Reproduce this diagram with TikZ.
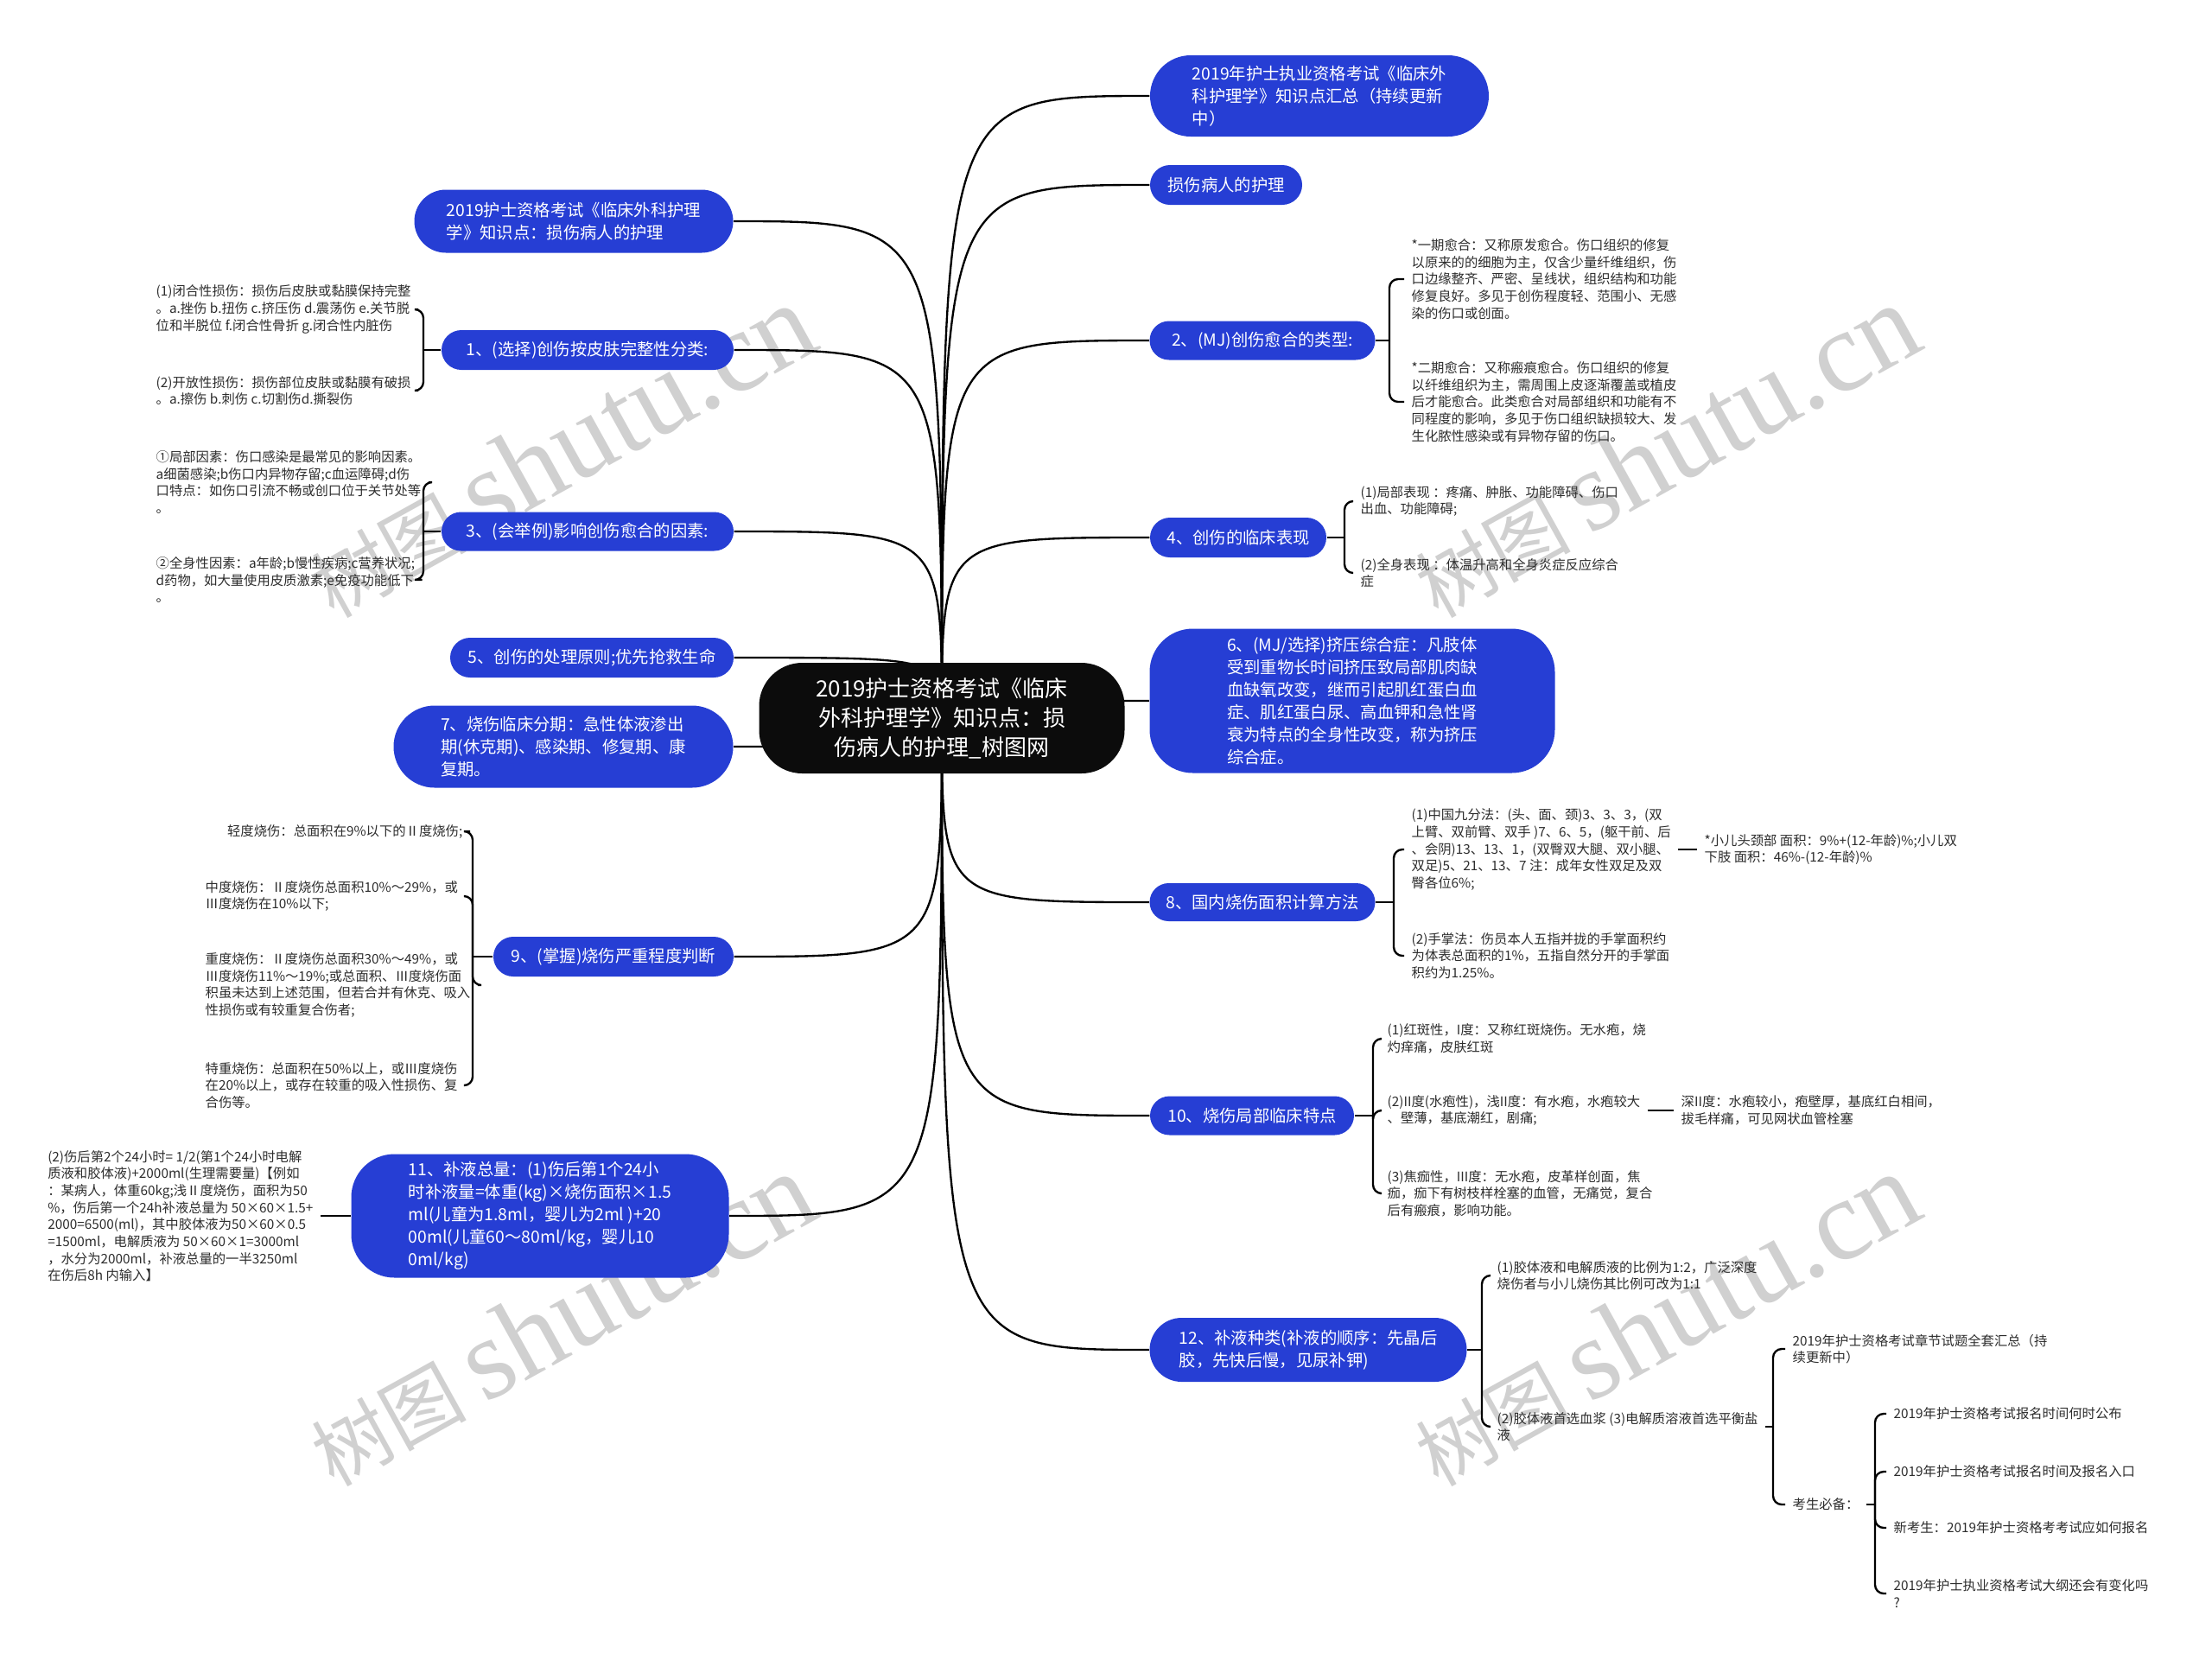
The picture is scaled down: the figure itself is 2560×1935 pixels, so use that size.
\documentclass[tikz,border=0pt]{standalone}
\usepackage{fontspec}
\setmainfont{Noto Sans CJK SC}
\newfontfamily\wmlatin{Liberation Serif}
\usetikzlibrary{shapes.misc}
\pgfdeclarelayer{bg}
\pgfsetlayers{bg,main}
\definecolor{nodeblue}{RGB}{38,62,212}
\definecolor{nodeblack}{RGB}{12,12,12}
\definecolor{txtgray}{RGB}{45,45,45}
\definecolor{wmgray}{RGB}{208,208,208}
\begin{document}
\begin{tikzpicture}[x=0.3pt,y=-0.3pt,
  conn/.style={line width=0.7pt, black},
  brk/.style={conn, rounded corners=3pt},
  rootnode/.style={rectangle, rounded corners=15pt, fill=nodeblack, text=white,
    font=\fontsize{7.8pt}{10.2pt}\selectfont, align=center,
    minimum width=126.9pt, minimum height=38.4pt, inner sep=0pt},
  topic/.style={rounded rectangle, fill=nodeblue, text=white,
    font=\fontsize{5.8pt}{7.8pt}\selectfont, align=left, inner sep=0pt},
  bigtopic/.style={rectangle, rounded corners=15pt, fill=nodeblue, text=white,
    font=\fontsize{5.8pt}{7.8pt}\selectfont, align=left, inner sep=0pt},
  leaf/.style={text=txtgray, font=\fontsize{4.6pt}{5.9pt}\selectfont, align=left,
    inner xsep=2.4pt, inner ysep=0pt},
  wm/.style={text=wmgray, rotate=29}
]
\useasboundingbox (0,0) rectangle (2560,1935);

% root
\node[rootnode] (root) at (1090,831) {2019护士资格考试《临床\\外科护理学》知识点：损\\伤病人的护理\_树图网};

% right topics
\node[topic, minimum width=117.6pt, minimum height=28.2pt] (R0) at (1527,111) {2019年护士执业资格考试《临床外\\科护理学》知识点汇总（持续更新\\中）};
\node[topic, minimum width=52.8pt, minimum height=13.8pt] (R1) at (1419,214) {损伤病人的护理};
\node[topic, minimum width=78.3pt, minimum height=13.5pt] (R2) at (1461,394) {2、(MJ)创伤愈合的类型:};
\node[topic, minimum width=61.2pt, minimum height=13.8pt] (R4) at (1433,622) {4、创伤的临床表现};
\node[bigtopic, minimum width=140.7pt, minimum height=50.1pt] (R6) at (1565,811) {6、(MJ/选择)挤压综合症：凡肢体\\受到重物长时间挤压致局部肌肉缺\\血缺氧改变，继而引起肌红蛋白血\\症、肌红蛋白尿、高血钾和急性肾\\衰为特点的全身性改变，称为挤压\\综合症。};
\node[topic, minimum width=78.3pt, minimum height=13.2pt] (R8) at (1461,1044) {8、国内烧伤面积计算方法};
\node[topic, minimum width=70.8pt, minimum height=13.5pt] (R10) at (1449,1291) {10、烧伤局部临床特点};
\node[topic, minimum width=110.1pt, minimum height=22.2pt] (R12) at (1514,1562) {12、补液种类(补液的顺序：先晶后\\胶，先快后慢，见尿补钾)};

% left topics
\node[topic, minimum width=110.7pt, minimum height=21.9pt] (L0) at (664,256) {2019护士资格考试《临床外科护理\\学》知识点：损伤病人的护理};
\node[topic, minimum width=101.4pt, minimum height=13.8pt] (L1) at (680,405) {1、(选择)创伤按皮肤完整性分类:};
\node[topic, minimum width=101.4pt, minimum height=13.5pt] (L3) at (680,615) {3、(会举例)影响创伤愈合的因素:};
\node[topic, minimum width=98.4pt, minimum height=13.8pt] (L5) at (685,761) {5、创伤的处理原则;优先抢救生命};
\node[topic, minimum width=117.9pt, minimum height=28.5pt] (L7) at (652,864) {7、烧伤临床分期：急性体液渗出\\期(休克期)、感染期、修复期、康\\复期。};
\node[topic, minimum width=83.4pt, minimum height=13.8pt] (L9) at (710,1107) {9、(掌握)烧伤严重程度判断};
\node[bigtopic, minimum width=131.1pt, minimum height=42.9pt] (L11) at (625,1407) {11、补液总量：(1)伤后第1个24小\\时补液量=体重(kg)×烧伤面积×1.5\\ml(儿童为1.8ml，婴儿为2ml )+20\\00ml(儿童60～80ml/kg，婴儿10\\0ml/kg)};

% left leaves
\node[leaf, anchor=west] (l1a) at (172,358) {(1)闭合性损伤：损伤后皮肤或黏膜保持完整\\。a.挫伤 b.扭伤 c.挤压伤 d.震荡伤 e.关节脱\\位和半脱位 f.闭合性骨折 g.闭合性内脏伤};
\node[leaf, anchor=west] (l1b) at (172,452) {(2)开放性损伤：损伤部位皮肤或黏膜有破损\\。a.擦伤 b.刺伤 c.切割伤d.撕裂伤};
\node[leaf, anchor=west] (l3a) at (172,558) {①局部因素：伤口感染是最常见的影响因素。\\a细菌感染;b伤口内异物存留;c血运障碍;d伤\\口特点：如伤口引流不畅或创口位于关节处等\\。};
\node[leaf, anchor=west] (l3b) at (172,671) {②全身性因素：a年龄;b慢性疾病;c营养状况;\\d药物，如大量使用皮质激素;e免疫功能低下\\。};
\node[leaf, anchor=east] (l9a) at (544,962) {轻度烧伤：总面积在9\%以下的Ⅱ度烧伤;};
\node[leaf, anchor=west] (l9b) at (229,1037) {中度烧伤：Ⅱ度烧伤总面积10\%～29\%，或\\Ⅲ度烧伤在10\%以下;};
\node[leaf, anchor=west] (l9c) at (229,1140) {重度烧伤：Ⅱ度烧伤总面积30\%～49\%，或\\Ⅲ度烧伤11\%～19\%;或总面积、Ⅲ度烧伤面\\积虽未达到上述范围，但若合并有休克、吸入\\性损伤或有较重复合伤者;};
\node[leaf, anchor=west] (l9d) at (229,1256) {特重烧伤：总面积在50\%以上，或Ⅲ度烧伤\\在20\%以上，或存在较重的吸入性损伤、复\\合伤等。};
\node[leaf, anchor=east] (l11a) at (371,1407) {(2)伤后第2个24小时= 1/2(第1个24小时电解\\质液和胶体液)+2000ml(生理需要量)【例如\\：某病人，体重60kg;浅Ⅱ度烧伤，面积为50\\\%，伤后第一个24h补液总量为 50×60×1.5+\\2000=6500(ml)，其中胶体液为50×60×0.5\\=1500ml，电解质液为 50×60×1=3000ml\\，水分为2000ml，补液总量的一半3250ml\\在伤后8h 内输入】};

% right leaves
\node[leaf, anchor=west] (r2a) at (1625,323) {*一期愈合：又称原发愈合。伤口组织的修复\\以原来的的细胞为主，仅含少量纤维组织，伤\\口边缘整齐、严密、呈线状，组织结构和功能\\修复良好。多见于创伤程度轻、范围小、无感\\染的伤口或创面。};
\node[leaf, anchor=west] (r2b) at (1625,465) {*二期愈合：又称瘢痕愈合。伤口组织的修复\\以纤维组织为主，需周围上皮逐渐覆盖或植皮\\后才能愈合。此类愈合对局部组织和功能有不\\同程度的影响，多见于伤口组织缺损较大、发\\生化脓性感染或有异物存留的伤口。};
\node[leaf, anchor=west] (r4a) at (1566,580) {(1)局部表现 ：疼痛、肿胀、功能障碍、伤口\\出血、功能障碍;};
\node[leaf, anchor=west] (r4b) at (1566,663) {(2)全身表现 ：体温升高和全身炎症反应综合\\症};
\node[leaf, anchor=west] (r8a) at (1625,983) {(1)中国九分法：(头、面、颈)3、3、3，(双\\上臂、双前臂、双手 )7、6、5，(躯干前、后\\、会阴)13、13、1，(双臀双大腿、双小腿、\\双足)5、21、13、7 注：成年女性双足及双\\臀各位6\%;};
\node[leaf, anchor=west] (r8b) at (1625,1106) {(2)手掌法：伤员本人五指并拢的手掌面积约\\为体表总面积的1\%，五指自然分开的手掌面\\积约为1.25\%。};
\node[leaf, anchor=west] (r8c) at (1964,983) {*小儿头颈部 面积：9\%+(12-年龄)\%;小儿双\\下肢 面积：46\%-(12-年龄)\%};
\node[leaf, anchor=west] (r10a) at (1597,1202) {(1)红斑性，I度：又称红斑烧伤。无水疱，烧\\灼痒痛，皮肤红斑};
\node[leaf, anchor=west] (r10b) at (1597,1285) {(2)II度(水疱性)，浅II度：有水疱，水疱较大\\、壁薄，基底潮红，剧痛;};
\node[leaf, anchor=west] (r10c) at (1597,1381) {(3)焦痂性，III度：无水疱，皮革样创面，焦\\痂，痂下有树枝样栓塞的血管，无痛觉，复合\\后有瘢痕，影响功能。};
\node[leaf, anchor=west] (r10d) at (1937,1285) {深II度：水疱较小，疱壁厚，基底红白相间，\\拔毛样痛，可见网状血管栓塞};
\node[leaf, anchor=west] (r12a) at (1724,1476) {(1)胶体液和电解质液的比例为1:2，广泛深度\\烧伤者与小儿烧伤其比例可改为1:1};
\node[leaf, anchor=west] (r12b) at (1724,1651) {(2)胶体液首选血浆 (3)电解质溶液首选平衡盐\\液};
\node[leaf, anchor=west] (r12c) at (2066,1561) {2019年护士资格考试章节试题全套汇总（持\\续更新中）};
\node[leaf, anchor=west] (r12d) at (2066,1741) {考生必备：};
\node[leaf, anchor=west] (r12e) at (2183,1636) {2019年护士资格考试报名时间何时公布};
\node[leaf, anchor=west] (r12f) at (2183,1703) {2019年护士资格考试报名时间及报名入口};
\node[leaf, anchor=west] (r12g) at (2183,1768) {新考生：2019年护士资格考考试应如何报名};
\node[leaf, anchor=west] (r12h) at (2183,1844) {2019年护士执业资格考试大纲还会有变化吗\\?};

% bracket joints
\coordinate (j1) at (490,405);
\coordinate (j3) at (490,615);
\coordinate (j9) at (547,1107);
\coordinate (j2) at (1608,394);
\coordinate (j4) at (1556,622);
\coordinate (j8) at (1613,1044);
\coordinate (j10) at (1589,1291);
\coordinate (j12) at (1715,1562);
\coordinate (j12b) at (2052,1651);
\coordinate (j12d) at (2170,1741);

\begin{pgfonlayer}{bg}
\fill[white] (0,0) rectangle (2560,1935);
% watermarks
\node[wm] (wm1) at (649,522) {\fontsize{27pt}{27pt}\selectfont 树图 {\wmlatin\fontsize{40pt}{40pt}\selectfont shutu.cn}};
\node[wm] (wm2) at (1927,522) {\fontsize{27pt}{27pt}\selectfont 树图 {\wmlatin\fontsize{40pt}{40pt}\selectfont shutu.cn}};
\node[wm] (wm3) at (649,1527) {\fontsize{27pt}{27pt}\selectfont 树图 {\wmlatin\fontsize{40pt}{40pt}\selectfont shutu.cn}};
\node[wm] (wm4) at (1927,1527) {\fontsize{27pt}{27pt}\selectfont 树图 {\wmlatin\fontsize{40pt}{40pt}\selectfont shutu.cn}};
% root connectors
\foreach \n in {R0,R1,R2,R4,R6,R8,R10,R12}
  \draw[conn] (root.center) .. controls (root.center |- \n.west) .. (\n.west);
\foreach \n in {L0,L1,L3,L5,L7,L9,L11}
  \draw[conn] (root.center) .. controls (root.center |- \n.east) .. (\n.east);
% brackets
\draw[conn] (L1.west) -- (j1);
\draw[brk] (j1) |- (l1a.east);
\draw[brk] (j1) |- (l1b.east);
\draw[conn] (L3.west) -- (j3);
\draw[brk] (j3) |- (l3a.east);
\draw[brk] (j3) |- (l3b.east);
\draw[conn] (L9.west) -- (j9);
\draw[brk] (j9) |- (l9a.east);
\draw[brk] (j9) |- (l9b.east);
\draw[brk] (j9) |- (l9c.east);
\draw[brk] (j9) |- (l9d.east);
\draw[conn] (L11.west) -- (l11a.east);
\draw[conn] (R2.east) -- (j2);
\draw[brk] (j2) |- (r2a.west);
\draw[brk] (j2) |- (r2b.west);
\draw[conn] (R4.east) -- (j4);
\draw[brk] (j4) |- (r4a.west);
\draw[brk] (j4) |- (r4b.west);
\draw[conn] (R8.east) -- (j8);
\draw[brk] (j8) |- (r8a.west);
\draw[brk] (j8) |- (r8b.west);
\draw[conn] (r8a.east) -- (r8c.west);
\draw[conn] (R10.east) -- (j10);
\draw[brk] (j10) |- (r10a.west);
\draw[brk] (j10) |- (r10b.west);
\draw[brk] (j10) |- (r10c.west);
\draw[conn] (r10b.east) -- (r10d.west);
\draw[conn] (R12.east) -- (j12);
\draw[brk] (j12) |- (r12a.west);
\draw[brk] (j12) |- (r12b.west);
\draw[conn] (r12b.east) -- (j12b);
\draw[brk] (j12b) |- (r12c.west);
\draw[brk] (j12b) |- (r12d.west);
\draw[conn] (r12d.east) -- (j12d);
\draw[brk] (j12d) |- (r12e.west);
\draw[brk] (j12d) |- (r12f.west);
\draw[brk] (j12d) |- (r12g.west);
\draw[brk] (j12d) |- (r12h.west);
\end{pgfonlayer}
\end{tikzpicture}
\end{document}
